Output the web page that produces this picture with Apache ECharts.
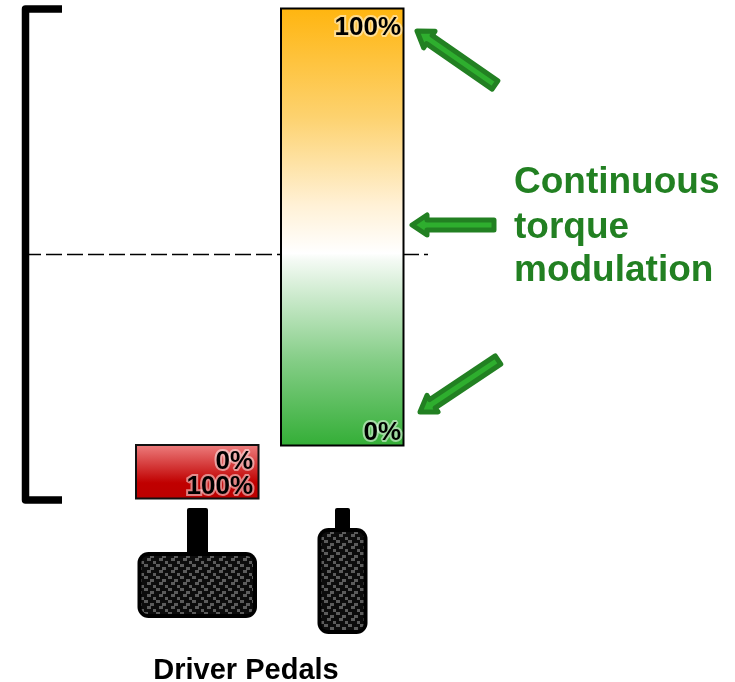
<!DOCTYPE html>
<html>
<head>
<meta charset="utf-8">
<style>
  html, body { margin: 0; padding: 0; background: #fff; }
  #chart { width: 735px; height: 682px; }
</style>
<script src="https://cdn.jsdelivr.net/npm/echarts@6/dist/echarts.min.js"></script>
</head>
<body>
<div id="chart"></div>
<script>
  const bracket = [[62, 9], [25.5, 9], [25.5, 500], [62, 500]];
  const neutralLine = [[29, 254.5], [428, 254.5]];
  const driveBar = [281, 8.5, 403.5, 445.5];
  const brakeBar = [136, 445, 258.5, 498.5];
  const pedalStems = [[187, 508, 208, 556], [335, 508, 350, 532]];
  const pedalPads = [[137.5, 552, 257, 618], [317.5, 528, 367.5, 634]];
  const arrowTails = [[495, 85], [494, 225], [498, 360]];
  const arrowTips = [[417, 31], [412, 225], [420, 412]];
  const barTexts = ['100%', '0%', '0%', '100%'];
  const barTextPos = [[401, 28], [401, 433], [253, 462], [253, 487]];
  const noteTexts = ['Continuous', 'torque', 'modulation'];
  const notePos = [[514, 183], [514, 228], [514, 271]];
  const footerText = ['Driver Pedals'];
  const footerPos = [[246, 671]];

  const green = '#228022';
  const font = 'bold 26px "Liberation Sans", Arial, sans-serif';

  const driveFill = new echarts.graphic.LinearGradient(0, 0, 0, 1, [
    {offset: 0, color: '#FFB50F'},
    {offset: 0.25, color: '#FDD26F'},
    {offset: 0.45, color: '#FFF1D6'},
    {offset: 0.56, color: '#FFFFFF'},
    {offset: 0.575, color: '#F4FAF4'},
    {offset: 0.8, color: '#86CE88'},
    {offset: 1, color: '#33AE36'}
  ]);
  const brakeFill = new echarts.graphic.LinearGradient(0, 0, 0, 1, [
    {offset: 0, color: '#EE8080'},
    {offset: 0.7, color: '#C00000'},
    {offset: 1, color: '#BC0000'}
  ]);

  // the rubber tread on the pedals
  function treadPattern() {
    const c = document.createElement('canvas');
    c.width = 12;
    c.height = 12;
    const g = c.getContext('2d');
    g.fillStyle = '#0c0c0c';
    g.fillRect(0, 0, 12, 12);
    g.fillStyle = '#5c5c5c';
    g.fillRect(0, 0, 4, 3);
    g.fillRect(6, 3, 4, 3);
    g.fillRect(3, 6, 4, 3);
    g.fillRect(9, 9, 3, 3);
    return {image: c, repeat: 'repeat'};
  }
  const tread = treadPattern();

  function boxSeries(boxes, style, z, radius, inset) {
    return {
      type: 'custom',
      coordinateSystem: 'cartesian2d',
      z: z,
      silent: true,
      encode: {x: [0, 2], y: [1, 3]},
      data: boxes,
      renderItem(params, api) {
        const a = api.coord([api.value(0), api.value(1)]);
        const b = api.coord([api.value(2), api.value(3)]);
        return {
          type: 'rect',
          shape: {
            x: a[0] + inset,
            y: a[1] + inset,
            width: b[0] - a[0] - inset * 2,
            height: b[1] - a[1] - inset * 2,
            r: radius
          },
          style: style
        };
      }
    };
  }

  function arrowSeries() {
    return {
      type: 'custom',
      coordinateSystem: 'cartesian2d',
      z: 5,
      silent: true,
      encode: {x: [0, 2], y: [1, 3]},
      data: arrowTails.map((t, i) => [t[0], t[1], arrowTips[i][0], arrowTips[i][1]]),
      renderItem(params, api) {
        const s = api.coord([api.value(0), api.value(1)]);
        const e = api.coord([api.value(2), api.value(3)]);
        const len = Math.hypot(e[0] - s[0], e[1] - s[1]);
        const ux = (e[0] - s[0]) / len, uy = (e[1] - s[1]) / len;
        const nx = -uy, ny = ux;
        const headLen = 15, shaft = 5, head = 10;
        const at = (along, off) => [s[0] + ux * along + nx * off, s[1] + uy * along + ny * off];
        return {
          type: 'polygon',
          shape: {
            points: [
              at(0, -shaft), at(len - headLen, -shaft), at(len - headLen, -head), at(len, 0),
              at(len - headLen, head), at(len - headLen, shaft), at(0, shaft)
            ]
          },
          style: {fill: '#2EAE2E', stroke: green, lineWidth: 5, lineJoin: 'round'}
        };
      }
    };
  }

  function textSeries(texts, pos, z, style) {
    return {
      type: 'custom',
      coordinateSystem: 'cartesian2d',
      z: z,
      silent: true,
      data: pos,
      renderItem(params, api) {
        const p = api.coord([api.value(0), api.value(1)]);
        return {
          type: 'text',
          x: p[0],
          y: p[1],
          style: Object.assign({text: texts[params.dataIndex], verticalAlign: 'middle'}, style)
        };
      }
    };
  }

  function pathSeries(points, lineStyle, z) {
    return {
      type: 'line',
      z: z,
      silent: true,
      showSymbol: false,
      animation: false,
      data: points,
      lineStyle: lineStyle
    };
  }

  const chart = echarts.init(document.getElementById('chart'));
  chart.setOption({
    animation: false,
    backgroundColor: '#fff',
    tooltip: {show: false},
    grid: {left: 0, right: 0, top: 0, bottom: 0},
    xAxis: {type: 'value', min: 0, max: 735, show: false},
    yAxis: {type: 'value', min: 0, max: 682, inverse: true, show: false},
    series: [
      pathSeries(neutralLine, {color: '#000', width: 1.5, type: [16, 5], dashOffset: 4}, 1),
      pathSeries(bracket, {color: '#000', width: 7.5, join: 'round', cap: 'butt'}, 2),
      boxSeries([driveBar], {fill: driveFill, stroke: '#000', lineWidth: 2}, 3, 0, 0),
      boxSeries([brakeBar], {fill: brakeFill, stroke: '#111', lineWidth: 2}, 3, 0, 0),
      boxSeries(pedalStems, {fill: '#000'}, 3, 2, 0),
      boxSeries(pedalPads, {fill: '#000'}, 4, 11, 0),
      boxSeries(pedalPads, {fill: tread}, 5, 6, 4),
      arrowSeries(),
      textSeries(barTexts, barTextPos, 6, {
        font: font, fill: '#000', align: 'right',
        stroke: 'rgba(255,255,255,0.5)', lineWidth: 4, strokeFirst: true
      }),
      textSeries(noteTexts, notePos, 6, {
        font: 'bold 37px "Liberation Sans", Arial, sans-serif', fill: green, align: 'left'
      }),
      textSeries(footerText, footerPos, 6, {
        font: 'bold 29px "Liberation Sans", Arial, sans-serif', fill: '#000', align: 'center'
      })
    ]
  });
</script>
</body>
</html>
